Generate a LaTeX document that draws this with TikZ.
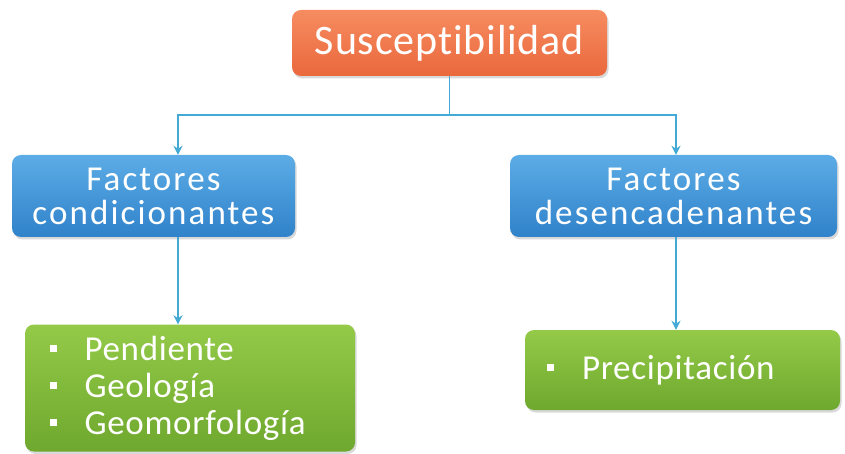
\documentclass[tikz,border=0pt]{standalone}
\usepackage{fontspec}
\setmainfont{Carlito}[Ligatures=NoCommon]
\newfontfamily\suscfont{Carlito}[LetterSpace=2,Ligatures=NoCommon]
\newfontfamily\factfont{Carlito}[LetterSpace=6,Ligatures=NoCommon]
\newfontfamily\listfont{Carlito}[LetterSpace=2,Ligatures=NoCommon]
\usetikzlibrary{arrows.meta,positioning,shadows}
\definecolor{suscOrange}{RGB}{246,140,96}
\definecolor{suscOrangeDark}{RGB}{234,104,60}
\definecolor{factBlue}{RGB}{92,172,230}
\definecolor{factBlueDark}{RGB}{48,130,202}
\definecolor{listGreen}{RGB}{148,202,72}
\definecolor{listGreenDark}{RGB}{110,168,46}
\definecolor{linkBlue}{RGB}{66,170,212}
\newcommand{\itm}[1]{\raisebox{8pt}{\rule{7pt}{7pt}}\hspace{28pt}#1}

\begin{document}
\begin{tikzpicture}[x=1pt,y={(0pt,-1pt)},
  b/.style={rounded corners=9pt,text=white,inner sep=0pt,drop shadow={opacity=0.3,shadow xshift=1.5pt,shadow yshift=-2.5pt}},
  topbox/.style={b,align=center,top color=suscOrange,bottom color=suscOrangeDark,font=\suscfont\fontsize{42}{46}\selectfont},
  factbox/.style={b,align=center,top color=factBlue,bottom color=factBlueDark,font=\factfont\fontsize{35}{34}\selectfont},
  listbox/.style={b,align=left,top color=listGreen,bottom color=listGreenDark,font=\listfont\fontsize{35}{37}\selectfont},
  line/.style={linkBlue,line width=1.8pt},
  arrow/.style={line,-{Stealth[length=9pt,width=9pt]}}
]
  \useasboundingbox (0,0) rectangle (845,454);
  \node[topbox,minimum width=315pt,minimum height=66pt] (susc) at (449.5,43) {Susceptibilidad};
  \node[factbox,minimum width=283pt,minimum height=82pt] (cond) at (153.5,196) {Factores\\condicionantes};
  \node[factbox,minimum width=327pt,minimum height=82pt] (desen) at (673.5,196) {Factores\\desencadenantes};
  \node[listbox,text width=281pt,inner xsep=24.5pt,minimum height=127pt] (lcond) at (190,388)
    {\itm{Pendiente}\\\itm{Geología}\\\itm{Geomorfología}};
  \node[listbox,text width=271pt,inner xsep=22pt,minimum height=80pt] (ldesen) at (682.5,370)
    {\itm{Precipitación}};
  % conectores
  \coordinate (split) at (449.5,115);
  \coordinate (lx) at (178,0);
  \coordinate (rx) at (676,0);
  \draw[line] (susc.south) -- (split);
  \draw[arrow] (split) -| (cond.north -| lx);
  \draw[arrow] (split) -| (desen.north -| rx);
  \draw[arrow] (cond.south -| lx) -- (lcond.north -| lx);
  \draw[arrow] (desen.south -| rx) -- (ldesen.north -| rx);
\end{tikzpicture}
\end{document}
